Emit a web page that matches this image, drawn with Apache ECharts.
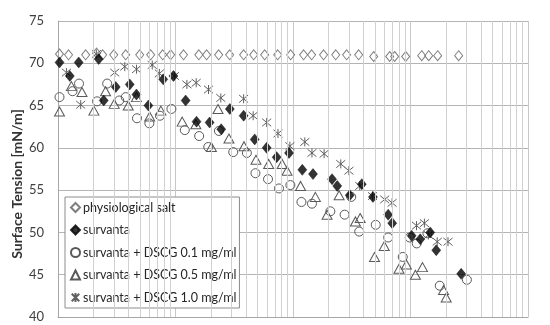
<!DOCTYPE html>
<html>
<head>
<meta charset="utf-8">
<script src="https://cdn.jsdelivr.net/npm/echarts@6/dist/echarts.min.js"></script>
<style>
  html, body { margin: 0; padding: 0; background: #fff; }
  #chart { width: 550px; height: 325px; }
</style>
</head>
<body>
<div id="chart"></div>
<script>
// x axis is logarithmic (no labels shown), y is surface tension
const salineX = [1.03, 1.23, 1.72, 2.13, 2.40, 2.98, 3.77, 4.96, 6.15, 7.78, 9.10, 11.7, 15.8, 18.4, 23.3, 28.9, 38.0, 46.3, 57.4, 74.1, 95.5, 123, 144, 182, 231, 286, 362, 486, 665, 733, 910, 1245, 1429, 1703, 2570];
const salineY = [71.1, 71.0, 71.0, 71.2, 71.0, 71.0, 71.0, 71.0, 71.0, 71.0, 71.0, 71.0, 71.0, 71.0, 71.0, 71.0, 71.0, 71.0, 71.0, 71.0, 71.0, 71.0, 71.0, 71.0, 71.0, 71.0, 71.0, 70.8, 70.8, 70.8, 70.8, 70.9, 70.9, 70.9, 70.9];

const survX = [1.03, 1.26, 1.50, 2.22, 2.45, 3.10, 4.08, 4.65, 5.88, 7.86, 9.60, 12.2, 15.1, 19.5, 24.5, 29.0, 38.0, 47.2, 59.7, 72.6, 92.5, 120, 148, 215, 238, 304, 385, 479, 646, 699, 1023, 1210, 1472, 1656, 2700];
const survY = [70.1, 68.5, 70.1, 70.5, 65.6, 67.2, 67.5, 66.3, 65.0, 68.1, 68.5, 65.6, 63.1, 63.0, 62.2, 64.6, 63.8, 61.0, 60.0, 58.9, 59.4, 57.4, 56.9, 56.3, 55.5, 54.4, 55.7, 54.2, 52.1, 51.1, 49.6, 49.2, 50.0, 47.9, 45.1];

const dscg01X = [1.03, 1.33, 1.51, 2.15, 2.62, 3.32, 3.77, 4.70, 5.99, 7.38, 9.23, 12.0, 15.9, 19.0, 23.4, 31.0, 40.5, 47.9, 61.3, 76.0, 95.0, 118, 145, 208, 275, 313, 366, 506, 646, 859, 985, 1130, 1393, 1774, 3020];
const dscg01Y = [66.0, 66.7, 67.6, 65.5, 67.6, 65.6, 66.0, 63.5, 62.9, 63.8, 64.6, 62.1, 61.4, 60.1, 62.0, 59.5, 59.4, 57.0, 56.3, 55.2, 55.6, 53.6, 53.4, 52.5, 52.1, 54.2, 50.1, 50.9, 49.4, 47.1, 49.4, 48.7, 49.9, 43.7, 44.4];

const dscg05X = [1.03, 1.30, 1.60, 2.02, 2.54, 3.01, 3.96, 4.65, 6.03, 7.51, 11.4, 14.9, 20.2, 23.0, 28.5, 38.3, 48.4, 62.1, 80.9, 88.9, 116, 155, 195, 247, 340, 373, 494, 598, 798, 923, 1101, 1265, 1910, 2013];
const dscg05Y = [64.3, 67.3, 66.6, 64.4, 66.7, 65.2, 65.0, 66.0, 63.7, 64.4, 63.1, 62.8, 60.1, 64.6, 61.1, 60.2, 58.6, 58.1, 58.1, 57.3, 55.5, 54.2, 52.1, 54.4, 51.3, 51.7, 47.1, 48.4, 45.7, 46.2, 45.0, 45.9, 43.2, 42.3];

const dscg10X = [1.18, 1.56, 2.12, 3.04, 3.70, 4.66, 6.34, 7.29, 9.79, 12.5, 15.0, 19.1, 24.3, 38.0, 45.8, 59.7, 74.5, 94.1, 126, 145, 184, 255, 299, 370, 475, 603, 697, 1125, 1313, 1420, 1688, 2085];
const dscg10Y = [68.9, 65.1, 71.1, 68.9, 69.6, 69.3, 69.8, 68.8, 68.5, 67.5, 67.7, 66.9, 65.9, 65.8, 63.8, 63.0, 61.7, 60.2, 60.7, 59.4, 59.3, 58.1, 57.3, 55.5, 54.3, 53.9, 53.5, 50.8, 51.1, 49.7, 48.9, 48.9];

// minor log gridlines
const minorGrid = [2, 3, 4, 5, 6, 7, 8, 9, 20, 30, 40, 50, 60, 70, 80, 90, 200, 300, 400, 500, 600, 700, 800, 900, 2000, 3000, 4000, 5000, 6000, 7000, 8000, 9000];

const FONT = 'Lato';
const pairs = (xs, ys) => xs.map((x, i) => [x, ys[i]]);
const starPath = 'path://M0,0L10,10M10,0L0,10M5,-1L5,11';

const chart = echarts.init(document.getElementById('chart'), null, { renderer: 'canvas' });

const hollow = (name, xs, ys, symbol, size, color) => ({
    name: name,
    type: 'scatter',
    z: 3,
    symbol: symbol,
    symbolSize: size,
    itemStyle: { color: 'rgba(255,255,255,0)', borderColor: color, borderWidth: 1, opacity: 1 },
    data: pairs(xs, ys)
});

chart.setOption({
    animation: false,
    backgroundColor: '#fff',
    textStyle: { fontFamily: FONT },
    grid: { left: 58, right: 22, top: 21, bottom: 8, containLabel: false },
    legend: {
        orient: 'vertical',
        left: 65,
        top: 197,
        padding: [4, 3, 4, 5],
        itemGap: 9.5,
        itemWidth: 9,
        itemHeight: 9,
        backgroundColor: '#fff',
        borderColor: '#8c8c8c',
        borderWidth: 1,
        borderRadius: 0,
        textStyle: { fontFamily: FONT, fontSize: 12.5, color: '#262626', lineHeight: 12, padding: [0, 0, 0, -2] },
        data: ['physiological salt', 'survanta', 'survanta + DSCG 0.1 mg/ml', 'survanta + DSCG 0.5 mg/ml', 'survanta + DSCG 1.0 mg/ml']
    },
    xAxis: {
        type: 'log',
        logBase: 10,
        min: 1,
        max: 10000,
        axisLabel: { show: false },
        axisTick: { show: false },
        axisLine: { show: true, lineStyle: { color: '#a6a6a6', width: 1 } },
        splitLine: { show: true, lineStyle: { color: '#c8c8c8', width: 1 } }
    },
    yAxis: {
        type: 'value',
        min: 40,
        max: 75,
        interval: 5,
        axisLabel: { fontFamily: FONT, fontSize: 13, color: '#404040', margin: 14 },
        axisTick: { show: false },
        axisLine: { show: true, lineStyle: { color: '#a6a6a6', width: 1 } },
        splitLine: { show: true, lineStyle: { color: '#b4b4b4', width: 1 } }
    },
    graphic: [{
        type: 'text',
        x: 17,
        y: 184,
        rotation: Math.PI / 2,
        style: {
            text: 'Surface Tension [mN/m]',
            fontFamily: FONT,
            fontSize: 14,
            fontWeight: 'bold',
            fill: '#333333',
            align: 'center',
            verticalAlign: 'middle'
        }
    }],
    series: [
        {
            name: 'gridlines',
            type: 'scatter',
            z: 1,
            data: [],
            silent: true,
            markLine: {
                silent: true,
                symbol: 'none',
                animation: false,
                label: { show: false },
                lineStyle: { color: '#d0d0d0', width: 1, type: 'solid' },
                emphasis: { disabled: true },
                data: minorGrid.map(v => ({ xAxis: v }))
            }
        },
        hollow('physiological salt', salineX, salineY, 'diamond', [8, 10], '#7f7f7f'),
        {
            name: 'survanta',
            type: 'scatter',
            z: 4,
            symbol: 'diamond',
            symbolSize: [9, 11],
            itemStyle: { color: '#000', borderColor: '#000', borderWidth: 0.5 },
            data: pairs(survX, survY)
        },
        hollow('survanta + DSCG 0.1 mg/ml', dscg01X, dscg01Y, 'circle', 9, '#595959'),
        hollow('survanta + DSCG 0.5 mg/ml', dscg05X, dscg05Y, 'triangle', [10, 9], '#595959'),
        hollow('survanta + DSCG 1.0 mg/ml', dscg10X, dscg10Y, starPath, 9, '#606060')
    ]
});
</script>
</body>
</html>
